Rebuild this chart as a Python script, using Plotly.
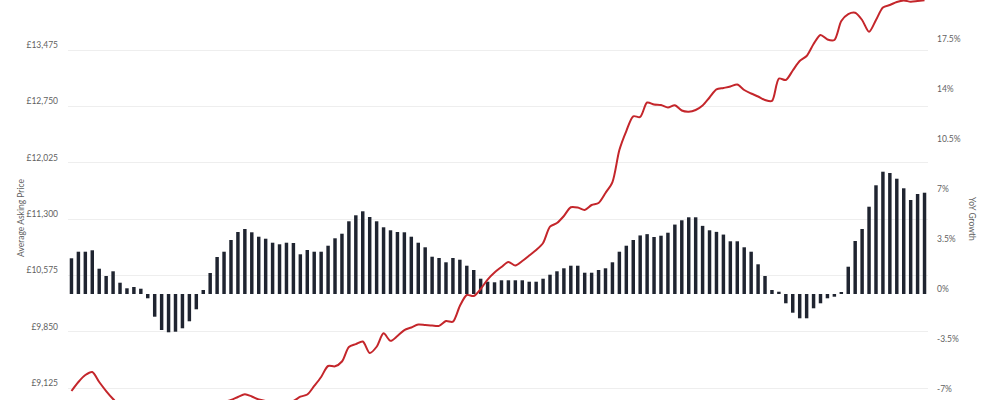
import plotly.graph_objects as go
import pandas as pd

# Monthly categories (x axis labels are not shown in the reference crop)
months = [d.strftime("%b %Y") for d in pd.date_range("2014-01-01", periods=124, freq="MS")]

# Average asking price (£), left axis
avg_price = [
    9086, 9202, 9292, 9331, 9202, 9086, 8983, 8893, 8816, 8752,
    8713, 8687, 8662, 8649, 8662, 8687, 8713, 8739, 8777, 8829,
    8880, 8919, 8945, 8971, 9009, 9044, 9016, 8977, 8958, 8945,
    8932, 8932, 8958, 9013, 9041, 9151, 9267, 9408, 9404, 9466,
    9653, 9689, 9723, 9575, 9656, 9829, 9732, 9794, 9871, 9904,
    9942, 9936, 9929, 9925, 9987, 9978, 10180, 10322, 10309, 10399,
    10521, 10611, 10682, 10747, 10702, 10759, 10830, 10901, 10991, 11201,
    11248, 11339, 11451, 11447, 11416, 11480, 11506, 11635, 11776, 12188,
    12432, 12622, 12613, 12799, 12774, 12767, 12735, 12763, 12696, 12681,
    12703, 12761, 12864, 12967, 12986, 13005, 13031, 12960, 12915, 12877,
    12832, 12819, 13108, 13089, 13211, 13333, 13398, 13552, 13668, 13610,
    13604, 13848, 13938, 13955, 13861, 13710, 13861, 14022, 14054, 14093,
    14112, 14097, 14106, 14115,
]

# Year-on-year growth (%), right axis
yoy_growth = [
    2.50, 2.96, 2.96, 3.06, 1.77, 1.26, 1.59, 0.79, 0.40, 0.49,
    0.37, -0.30, -1.59, -2.52, -2.68, -2.64, -2.40, -1.91, -1.07, 0.28,
    1.47, 2.59, 2.96, 3.78, 4.34, 4.55, 4.32, 4.01, 3.87, 3.59,
    3.48, 3.59, 3.57, 2.78, 3.08, 2.96, 2.96, 3.38, 3.90, 4.22,
    5.09, 5.51, 5.79, 5.39, 5.09, 4.67, 4.46, 4.34, 4.32, 4.01,
    3.59, 3.27, 2.61, 2.52, 2.22, 2.52, 2.40, 1.98, 1.68, 1.07,
    0.86, 0.82, 0.96, 0.96, 0.96, 0.96, 0.86, 0.86, 1.07, 1.35,
    1.59, 1.80, 1.98, 1.98, 1.49, 1.49, 1.68, 1.80, 2.22, 2.96,
    3.38, 3.78, 4.10, 4.19, 3.99, 4.08, 4.29, 4.86, 5.16, 5.37,
    5.37, 4.77, 4.46, 4.35, 4.16, 3.69, 3.69, 3.27, 2.96, 2.08,
    1.26, 0.28, 0.16, -0.65, -1.31, -1.70, -1.70, -1.00, -0.65, -0.30,
    -0.19, 0.10, 1.91, 3.71, 4.55, 6.11, 7.61, 8.56, 8.47, 8.07,
    7.40, 6.58, 7.00, 7.09,
]

price_ticks = [9125, 9850, 10575, 11300, 12025, 12750, 13475]
price_tick_text = ["£9,125", "£9,850", "£10,575", "£11,300", "£12,025", "£12,750", "£13,475"]
growth_ticks = [-7, -3.5, 0, 3.5, 7, 10.5, 14, 17.5]
growth_tick_text = ["-7%", "-3.5%", "0%", "3.5%", "7%", "10.5%", "14%", "17.5%"]

FONT = "Lato"
TICK_COLOR = "#5f5f5f"

fig = go.Figure()

fig.add_trace(go.Bar(
    x=months, y=yoy_growth, yaxis="y",
    marker=dict(color="#1f2430", line=dict(width=0)),
    width=0.5, name="YoY Growth",
))

fig.add_trace(go.Scatter(
    x=months, y=avg_price, yaxis="y2", mode="lines",
    line=dict(color="#c4262b", width=2, shape="spline", smoothing=0.8),
    name="Average Asking Price",
))

fig.update_layout(
    width=1000, height=400,
    margin=dict(l=68, r=72, t=0, b=0),
    paper_bgcolor="white", plot_bgcolor="white",
    showlegend=False,
    bargap=0.5,
    font=dict(family=FONT, size=9, color=TICK_COLOR),
    xaxis=dict(
        type="category", showticklabels=False, showgrid=False,
        zeroline=False, showline=False, ticks="",
        range=[-0.5, len(months) - 0.5],
    ),
    yaxis=dict(
        side="right", range=[-7.42, 20.58],
        tickvals=growth_ticks, ticktext=growth_tick_text,
        showgrid=False, zeroline=False, showline=False, ticks="",
        ticklabelstandoff=8, ticklabelshift=-5,
        tickfont=dict(family=FONT, size=8.5, color=TICK_COLOR),
    ),
    yaxis2=dict(
        side="left", overlaying="y", range=[8970.6, 14118.5],
        tickvals=price_ticks, ticktext=price_tick_text,
        showgrid=True, gridcolor="#eeeeee", gridwidth=1,
        zeroline=False, showline=False, ticks="",
        ticklabelstandoff=9, ticklabelshift=-5,
        tickfont=dict(family=FONT, size=8.5, color=TICK_COLOR),
    ),
    annotations=[
        dict(text="Average Asking Price", xref="paper", yref="paper",
             x=(21 - 68)/860, y=1 - 218/400, textangle=-90,
             showarrow=False, xanchor="center", yanchor="middle",
             font=dict(family=FONT, size=8.5, color=TICK_COLOR)),
        dict(text="YoY Growth", xref="paper", yref="paper",
             x=(972 - 68)/860, y=1 - 219/400, textangle=90,
             showarrow=False, xanchor="center", yanchor="middle",
             font=dict(family=FONT, size=8.5, color=TICK_COLOR)),
    ],
)

fig.write_html("out.html", config={"displayModeBar": False},
               post_script="document.body.style.margin='0';")
